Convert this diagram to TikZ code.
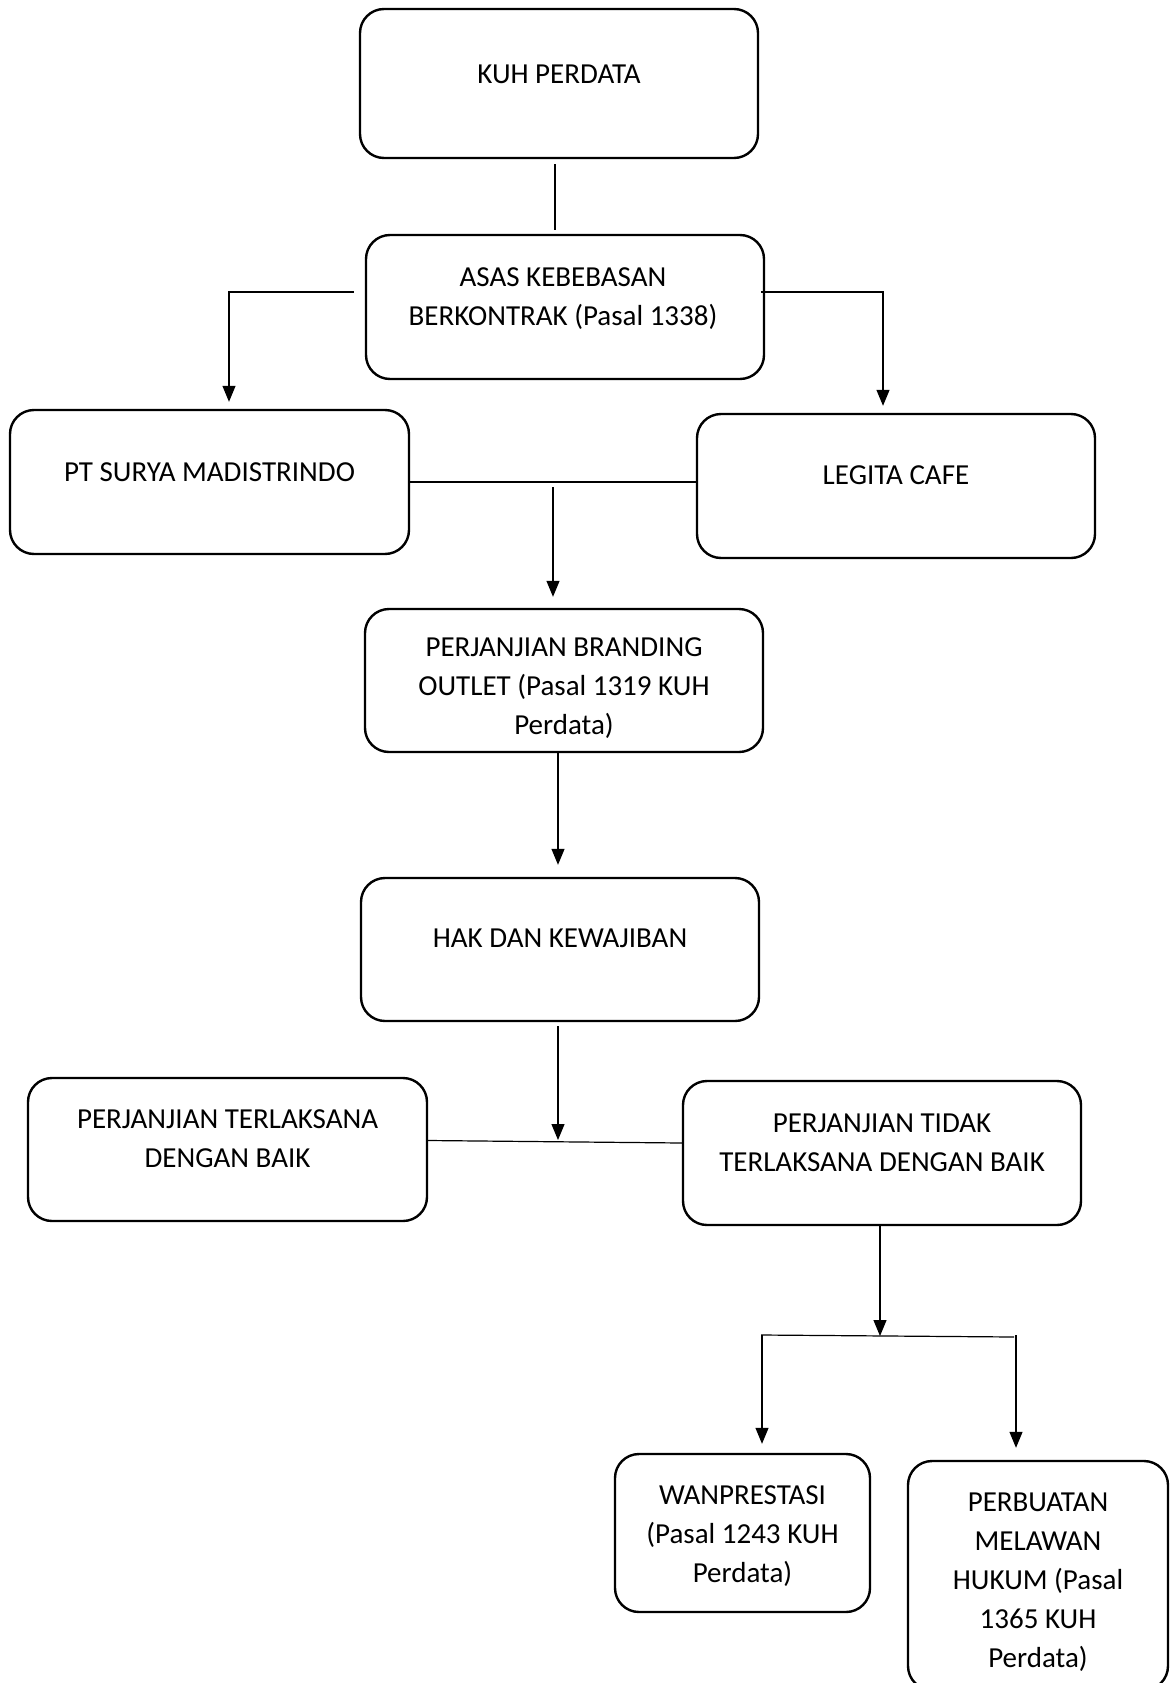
\documentclass[tikz,border=0pt]{standalone}
\usepackage{fontspec}
\setmainfont{Carlito}
\usetikzlibrary{arrows.meta, positioning, calc}

\begin{document}
\begin{tikzpicture}[
    x=1pt, y=-1pt,
    box/.style={draw, line width=2.4pt, rectangle, rounded corners=24pt,
                minimum width=398pt, minimum height=144pt, inner sep=0pt},
    lbl/.style={align=center, inner sep=0pt,
                font=\fontsize{29}{39}\selectfont},
    link/.style={-, line width=1.2pt},
    flow/.style={-{Triangle[width=13pt,length=16pt]}, line width=1.2pt},
]
\useasboundingbox (0,0) rectangle (1172,1683);

% --- top: code and principle ---
\node[box, minimum height=149pt] (kuh) at (559,83.5) {};
\node[lbl] (kuh-t) at (559,74) {KUH PERDATA};

\node[box] (asas) at (565,307) {};
\node[lbl] (asas-t) at (563,299) {ASAS KEBEBASAN\\BERKONTRAK (Pasal 1338)};

\draw[link] ([xshift=-4pt,yshift=-5pt]kuh.south) -- ([xshift=-10pt,yshift=4pt]asas.north);

% --- the two parties ---
\node[box, minimum width=399pt] (pt) at (209.5,482) {};
\node[lbl] (pt-t) at (209.5,472) {PT SURYA MADISTRINDO};

\node[box] (legita) at (896,486) {};
\node[lbl] (legita-t) at (896,475) {LEGITA CAFE};

\draw[flow] ([xshift=-11pt,yshift=15pt]asas.west) -| ([xshift=19.5pt,yshift=7pt]pt.north);
\draw[flow] ([xshift=-4pt,yshift=15pt]asas.east) -| ([xshift=-13pt,yshift=7pt]legita.north);
\draw[link] (pt.east) -- (pt.east -| legita.west);

% --- agreement and its content ---
\node[box, minimum height=143pt] (brand) at (564,680.5) {};
\node[lbl] (brand-t) at (564,688) {PERJANJIAN BRANDING\\OUTLET (Pasal 1319 KUH\\Perdata)};

\coordinate (deal) at (553,487);
\draw[flow] (deal) -- ([xshift=-11pt,yshift=11pt]brand.north);

\node[box, minimum height=143pt] (hak) at (560,949.5) {};
\node[lbl] (hak-t) at (560,938) {HAK DAN KEWAJIBAN};

\draw[flow] ([xshift=-6pt]brand.south) -- ([xshift=-2pt,yshift=12pt]hak.north);

% --- outcome of the agreement ---
\node[box, minimum width=399pt, minimum height=143pt] (baik) at (227.5,1149.5) {};
\node[lbl] (baik-t) at (227.5,1138.5) {PERJANJIAN TERLAKSANA\\DENGAN BAIK};

\node[box] (tidak) at (882,1153) {};
\node[lbl] (tidak-t) at (882,1142.5) {PERJANJIAN TIDAK\\TERLAKSANA DENGAN BAIK};

\coordinate (meet) at (558,1140);
\draw[flow] ([xshift=-2pt,yshift=-4pt]hak.south) -- (meet);
\draw[link] ([yshift=9pt]baik.east) -- ([yshift=10pt]tidak.west);

% --- breach: two kinds ---
\node[box, minimum width=255pt, minimum height=158pt] (wan) at (742.5,1533) {};
\node[lbl] (wan-t) at (742.5,1536) {WANPRESTASI\\(Pasal 1243 KUH\\Perdata)};

\node[box, minimum width=260pt, minimum height=229pt] (pmh) at (1038,1575.5) {};
\node[lbl] (pmh-t) at (1038,1582) {PERBUATAN\\MELAWAN\\HUKUM (Pasal\\1365 KUH\\Perdata)};

\coordinate (split) at (880,1336);
\coordinate (forkL) at (761,1335);
\coordinate (forkR) at (1014,1337);
\draw[flow] ([xshift=-2pt]tidak.south) -- (split);
\draw[link] (forkL) -- (forkR);
\draw[flow] ([xshift=1pt]forkL) -- ([xshift=19.5pt,yshift=9pt]wan.north);
\draw[flow] ([xshift=2pt,yshift=2pt]forkR) -- ([xshift=-22pt,yshift=12pt]pmh.north);
\end{tikzpicture}
\end{document}
